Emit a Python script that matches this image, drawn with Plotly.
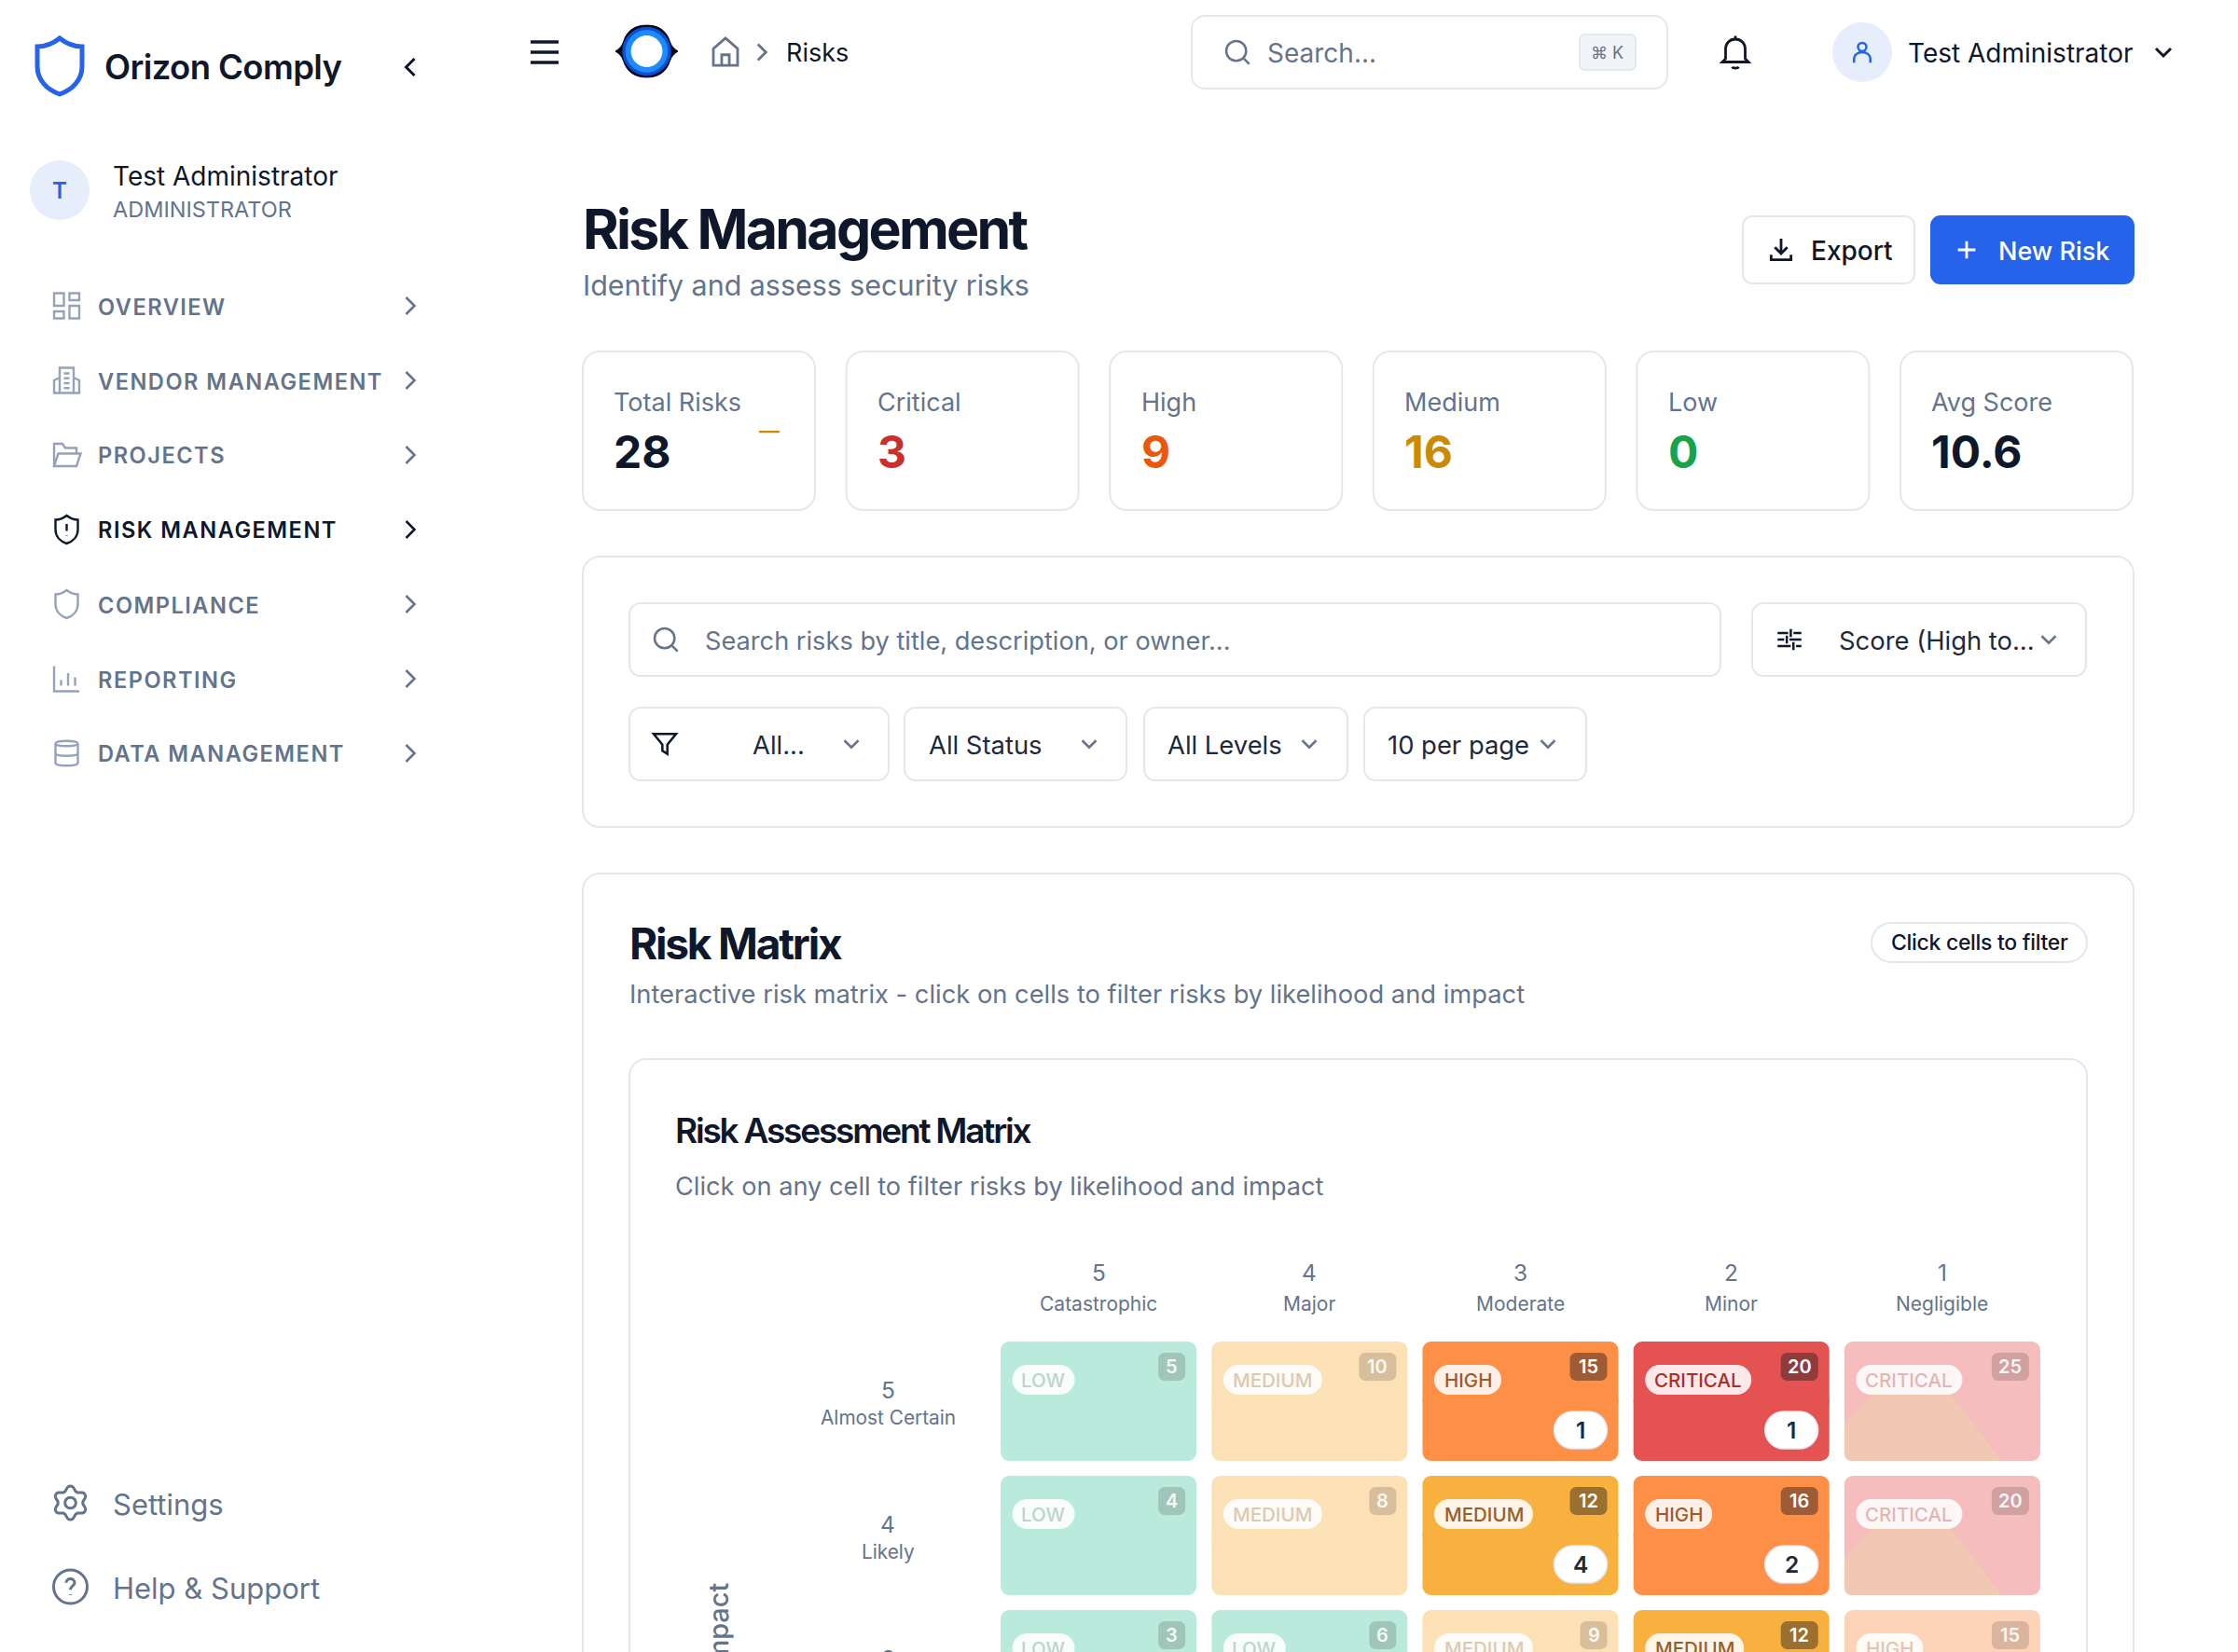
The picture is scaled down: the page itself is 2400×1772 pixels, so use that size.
import math
import re
import plotly.graph_objects as go

# matrix values, top rows only because the page is cut off below the third row
COLUMN_SCORES = [5, 4, 3, 2, 1]
COLUMN_NAMES = ["Catastrophic", "Major", "Moderate", "Minor", "Negligible"]
ROW_SCORES = [5, 4, 3]
ROW_NAMES = ["Almost Certain", "Likely", "Possible"]
CELL_SCORES = [[5, 10, 15, 20, 25], [4, 8, 12, 16, 20], [3, 6, 9, 12, 15]]
CELL_LEVELS = [
    ["LOW", "MEDIUM", "HIGH", "CRITICAL", "CRITICAL"],
    ["LOW", "MEDIUM", "MEDIUM", "HIGH", "CRITICAL"],
    ["LOW", "LOW", "MEDIUM", "MEDIUM", "HIGH"],
]
CELL_COUNTS = [[0, 0, 1, 1, 0], [0, 0, 4, 2, 0], [0, 0, 0, 1, 0]]

STAT_LABELS = ["Total Risks", "Critical", "High", "Medium", "Low", "Avg Score"]
STAT_VALUES = ["28", "3", "9", "16", "0", "10.6"]
STAT_COLOURS = ["#0f172a", "#c9302c", "#ea580c", "#ca8a04", "#16a34a", "#0f172a"]

NAV_LABELS = ["OVERVIEW", "VENDOR MANAGEMENT", "PROJECTS", "RISK MANAGEMENT",
              "COMPLIANCE", "REPORTING", "DATA MANAGEMENT"]

W, H = 2400, 1772
FONT = "Inter"
INK = "#0f172a"
SLATE = "#64748b"
BORDER = "#e2e8f0"
BLUE = "#2563eb"

LEVEL_COLOURS = {"LOW": "#47c9a0", "MEDIUM": "#f8b13f", "HIGH": "#fd8f47", "CRITICAL": "#e45252"}
LEVEL_TEXT = {"LOW": "#4b7f6e", "MEDIUM": "#96602a", "HIGH": "#a0592a", "CRITICAL": "#aa2e2e"}
LEVEL_PILL = {"LOW": 67, "MEDIUM": 106, "HIGH": 72, "CRITICAL": 114}
FADED = 0.38

# matrix geometry in page pixels
GRID_LEFT, GRID_RIGHT, GRID_TOP = 1065, 2196, 1431
ROW_PITCH = 144
CELL_W, CELL_H = 210, 128
BAR_W = CELL_W / ((GRID_RIGHT - GRID_LEFT) / 5)
BAR_H = CELL_H / ROW_PITCH
BAR_OVERLAP = 0.07

shapes = []
notes = []


def px(x):
    return round(x / W, 6)


def py(y):
    return round(1 - y / H, 6)


def blend(colour, alpha):
    # colour laid over the white page
    rgb = [int(colour[i:i + 2], 16) for i in (1, 3, 5)]
    return "rgb(" + ",".join(str(round(255 - (255 - v) * alpha)) for v in rgb) + ")"


def round_path(x0, y0, x1, y1, r):
    k = r * 0.45
    return [("M", x0 + r, y0), ("L", x1 - r, y0), ("C", x1 - k, y0, x1, y0 + k, x1, y0 + r),
            ("L", x1, y1 - r), ("C", x1, y1 - k, x1 - k, y1, x1 - r, y1),
            ("L", x0 + r, y1), ("C", x0 + k, y1, x0, y1 - k, x0, y1 - r),
            ("L", x0, y0 + r), ("C", x0, y0 + k, x0 + k, y0, x0 + r, y0), ("Z",)]


def to_paper(cmds):
    out = []
    for c in cmds:
        pts = c[1:]
        vals = []
        for i in range(0, len(pts), 2):
            vals.append(f"{px(pts[i])},{py(pts[i + 1])}")
        out.append(c[0] + " ".join(vals))
    return " ".join(out)


def box(x0, y0, x1, y1, r, fill="white", line=BORDER, width=2, layer="below"):
    shapes.append(dict(type="path", xref="paper", yref="paper", layer=layer,
                       path=to_paper(round_path(x0, y0, x1, y1, r)), fillcolor=fill,
                       line=dict(color=line, width=width)))


def icon(d, cx, cy, size, colour=SLATE, width=2.5, fill="rgba(0,0,0,0)"):
    # d is a 24x24 svg path, absolute M L C Z only
    s = size / 24
    cmds = []
    for op, args in re.findall(r"([MLCZ])([^MLCZ]*)", d):
        nums = [float(n) for n in args.split()]
        pts = []
        for i in range(0, len(nums), 2):
            pts += [cx + (nums[i] - 12) * s, cy + (nums[i + 1] - 12) * s]
        cmds.append((op, *pts))
    shapes.append(dict(type="path", xref="paper", yref="paper", layer="below", path=to_paper(cmds),
                       fillcolor=fill, line=dict(color=colour, width=width)))


def text(label, x, y, size, colour=SLATE, weight=400, anchor="left", spacing=None, angle=0, yanchor="middle"):
    if spacing is not None:
        label = f'<span style="letter-spacing:{spacing}px">{label}</span>'
    if anchor == "left":
        x -= 1.5
    notes.append(dict(text=label, xref="paper", yref="paper", x=px(x), y=py(y + 1), xanchor=anchor, yanchor=yanchor,
                      showarrow=False, textangle=angle, borderpad=0,
                      font=dict(family=FONT, size=size, color=colour, weight=weight)))


def circle_d(cx, cy, r):
    k = r * 0.55
    return (f"M{cx + r} {cy} C{cx + r} {cy + k} {cx + k} {cy + r} {cx} {cy + r} "
            f"C{cx - k} {cy + r} {cx - r} {cy + k} {cx - r} {cy} "
            f"C{cx - r} {cy - k} {cx - k} {cy - r} {cx} {cy - r} "
            f"C{cx + k} {cy - r} {cx + r} {cy - k} {cx + r} {cy} Z")


def gear_d():
    pts = []
    for i in range(72):
        a = i * math.pi / 36
        rad = 9.4 + 1.7 * max(-0.8, min(0.8, math.cos(6 * a + math.pi)))
        pts.append((12 + rad * math.cos(a), 12 + rad * math.sin(a)))
    d = "M" + " L".join(f"{x:.2f} {y:.2f}" for x, y in pts) + " Z "
    return d + circle_d(12, 12, 3.5)


SHIELD = "M12 2 C14.5 4 17.5 5 20 5 L20 12 C20 17 16.5 20.5 12 22 C7.5 20.5 4 17 4 12 L4 5 C6.5 5 9.5 4 12 2 Z"
EYE = ("M0 12 C1.5 11 2.5 10 3 8.5 C4.5 3.5 8 2 12 2 C16 2 19.5 3.5 21 8.5 C21.5 10 22.5 11 24 12 "
       "C22.5 13 21.5 14 21 15.5 C19.5 20.5 16 22 12 22 C8 22 4.5 20.5 3 15.5 C2.5 14 1.5 13 0 12 Z")
CHEV_R = "M9 6 L15 12 L9 18"
CHEV_L = "M15 6 L9 12 L15 18"
CHEV_D = "M6 9 L12 15 L18 9"
SEARCH = circle_d(11, 11, 8) + " M17 17 L21.5 21.5"
NAV_ICONS = [
    "M3 3 L10 3 L10 12 L3 12 Z M14 3 L21 3 L21 8 L14 8 Z M14 12 L21 12 L21 21 L14 21 Z M3 16 L10 16 L10 21 L3 21 Z",
    "M7 21 L7 3 L17 3 L17 21 M7 10 L3 12 L3 21 L21 21 L21 12 L17 10 M10 7 L14 7 M10 10.5 L14 10.5 M10 14 L14 14 M10 17.5 L14 17.5",
    "M3 20 L3 4 L9 4 L11 7 L19 7 L19 11 M3 20 L6 11 L22 11 L19 20 Z",
    SHIELD + " M12 8 L12 13 M12 16 L12 16.4",
    SHIELD,
    "M3 3 L3 21 L21 21 M8 17 L8 13 M13 17 L13 8 M18 17 L18 11",
    "M4 5 C4 2.5 20 2.5 20 5 C20 7.5 4 7.5 4 5 Z M4 5 L4 19 C4 21.5 20 21.5 20 19 L20 5 M4 12 C4 14.5 20 14.5 20 12",
]

# sidebar
icon(SHIELD, 64, 71, 72, BLUE, 5)
text("Orizon Comply", 112, 71, 36.5, INK, 600, spacing=-0.6)
icon(CHEV_L, 440, 72, 36, INK, 3)
shapes.append(dict(type="circle", xref="paper", yref="paper", x0=px(32), x1=px(96), y0=py(172), y1=py(236),
                   fillcolor="#e6eefc", line=dict(width=0), layer="below"))
text("T", 64, 204, 24, BLUE, 600, "center")
text("Test Administrator", 121, 188, 28, INK, 400)
text("ADMINISTRATOR", 121, 224, 23.5, SLATE, 400)
for i, (lab, d) in enumerate(zip(NAV_LABELS, NAV_ICONS)):
    y = 328 + i * 80
    on = lab == "RISK MANAGEMENT"
    icon(d, 71.5, y, 36, INK if on else "#94a3b8", 2.4)
    text(lab, 105, y, 23.6, INK if on else SLATE, 600, spacing=1.5)
    icon(CHEV_R, 440, y, 36, INK if on else SLATE, 2.5)
icon(gear_d(), 75.5, 1612, 40, SLATE, 3)
text("Settings", 121, 1613, 31, SLATE)
icon(circle_d(12, 12, 10.8) + " M9.3 9.5 C9.3 6 14.7 6 14.7 9.5 C14.7 11.5 12 11.5 12 14 M12 17 L12 17.4", 75.5, 1702, 40, SLATE, 3)
text("Help & Support", 121, 1702, 31, SLATE)

# top bar
for y in (45, 56, 67):
    icon("M0 12 L24 12", 584, y, 30, INK, 3.5)
icon(EYE, 693.5, 55, 67, "#020617", 1, "#020617")
icon(circle_d(12, 12, 9.2), 693.5, 55, 67, "#0b4fd6", 1, "#0b4fd6")
icon(circle_d(12, 12, 8), 693.5, 55, 67, "#1d8bfb", 1, "#1d8bfb")
icon(circle_d(12, 12, 5.9), 693.5, 55, 67, "white", 1, "white")
icon("M4 10 L12 3 L20 10 L20 21 L4 21 Z M9.5 21 L9.5 14 L14.5 14 L14.5 21", 778, 55.5, 39, SLATE, 2.8)
icon(CHEV_R, 817, 56, 34, SLATE, 2.8)
text("Risks", 843, 56, 27, INK, 400)
box(1278, 17, 1788, 95, 14)
icon(SEARCH, 1327, 56, 32, SLATE, 2.5)
text("Search...", 1359, 56, 28, SLATE)
box(1694, 37, 1754, 75, 6, "#f1f5f9")
text("⌘ K", 1724, 56, 18, SLATE, anchor="center")
icon("M6 16 L6 10 C6 6.5 8.5 4 12 4 C15.5 4 18 6.5 18 10 L18 16 L20 18 L4 18 Z M10 21 C10.5 22 13.5 22 14 21 M12 2 L12 4", 1861, 56, 42, INK, 2.8)
shapes.append(dict(type="circle", xref="paper", yref="paper", x0=px(1965), x1=px(2029), y0=py(24), y1=py(88),
                   fillcolor="#e6eefc", line=dict(width=0), layer="below"))
icon(circle_d(12, 7.5, 3.6) + " M5 21 L5 18 C5 10 19 10 19 18 L19 21", 1997, 56, 30, BLUE, 2.5)
text("Test Administrator", 2046, 56, 28, INK)
icon(CHEV_D, 2320, 56, 32, INK, 3)

# page heading
text("Risk Management", 625, 244, 59, INK, 700, spacing=-2.7)
text("Identify and assess security risks", 625, 305, 30.4, SLATE)
box(1869, 232, 2053, 304, 10)
icon("M12 3 L12 15 M7 10 L12 15 L17 10 M4 16 L4 20 L20 20 L20 16", 1910, 268, 32, INK, 2.8)
text("Export", 1942, 268, 28, INK, 500)
box(2071, 232, 2288, 304, 10, BLUE, BLUE)
icon("M12 5 L12 19 M5 12 L19 12", 2109, 268, 32, "white", 2.8)
text("New Risk", 2143, 268, 27, "white", 500)

# stat cards
for i, (lab, val, col) in enumerate(zip(STAT_LABELS, STAT_VALUES, STAT_COLOURS)):
    left = 625 + i * 282.6
    box(left, 377, left + 249, 547, 18)
    text(lab, left + 34, 431, 27, SLATE)
    text(val, left + 34, 484, 48, col, 700)
text("—", 825, 461, 22, "#ca8a04", 600, "center")

# filters
box(625, 597, 2288, 887, 18)
box(675, 647, 1845, 725, 12)
icon(SEARCH, 714, 686, 32, SLATE, 2.5)
text("Search risks by title, description, or owner...", 756, 686, 27.2, SLATE)
box(1879, 647, 2237, 725, 12)
icon("M3 7 L11 7 M15 7 L21 7 M13 4 L13 10 M3 12 L8 12 M12 12 L21 12 M10 9 L10 15 M3 17 L13 17 M17 17 L21 17 M15 14 L15 20", 1919, 686, 34, INK, 2.5)
text("Score (High to...", 1973, 686, 27.4, "#1e293b")
icon(CHEV_D, 2197, 686, 30, SLATE, 2.5)
SELECTS = [(675, 953, "All...", 807, 913), (970, 1208, "All Status", 996, 1168),
           (1227, 1445, "All Levels", 1253, 1404), (1463, 1701, "10 per page", 1488, 1660)]
for x0, x1, lab, tx, chev in SELECTS:
    box(x0, 759, x1, 837, 12)
    text(lab, tx, 798, 27.4, "#1e293b")
    icon(CHEV_D, chev, 798, 30, SLATE, 2.5)
icon("M3 4 L21 4 L14 12.5 L14 20 L10 17.5 L10 12.5 Z", 713, 798, 32, INK, 2.5)

# risk matrix panel, runs off the page
box(625, 937, 2288, 1900, 18)
text("Risk Matrix", 675, 1011, 46, INK, 700, spacing=-2.2)
text("Interactive risk matrix - click on cells to filter risks by likelihood and impact", 675, 1066, 27.3, SLATE)
box(2007, 990, 2238, 1032, 21)
text("Click cells to filter", 2123, 1010, 23, INK, 500, "center", spacing=-0.3)
box(675, 1136, 2238, 1900, 18)
text("Risk Assessment Matrix", 725, 1212, 37, INK, 600, spacing=-2.2)
text("Click on any cell to filter risks by likelihood and impact", 725, 1272, 27.2, SLATE)
text("Impact", 771, 1696, 29, SLATE, 500, "center", angle=-90, yanchor="top")

fig = go.Figure()
cols = list(range(len(COLUMN_SCORES)))
for r in range(len(ROW_SCORES)):
    colours = [blend(LEVEL_COLOURS[lv], 1 if n else FADED) for lv, n in zip(CELL_LEVELS[r], CELL_COUNTS[r])]
    # two halves from the middle of the row so that all four corners get rounded
    for sign in (1, -1):
        fig.add_trace(go.Bar(x=cols, y=[sign * (BAR_H / 2 + BAR_OVERLAP)] * len(cols),
                             base=[-r - sign * BAR_OVERLAP] * len(cols), width=BAR_W,
                             marker=dict(color=colours, cornerradius=9, line=dict(width=0)),
                             hoverinfo="skip", showlegend=False))


def cell_path(c, r, x0, y0, x1, y1, rad, fill, opacity=1, line=None):
    # offsets in pixels from the cell's top left, y downward
    ox, oy = -CELL_W / 2, CELL_H / 2
    cmds = round_path(x0, y0, x1, y1, rad)
    out = []
    for cmd in cmds:
        pts = cmd[1:]
        out.append(cmd[0] + " ".join(f"{ox + pts[i]:.2f},{oy - pts[i + 1]:.2f}" for i in range(0, len(pts), 2)))
    shapes.append(dict(type="path", xref="x", yref="y", xsizemode="pixel", ysizemode="pixel", xanchor=c, yanchor=-r,
                       path=" ".join(out), fillcolor=fill, opacity=opacity, layer="above",
                       line=dict(width=1.5 if line else 0, color=line or fill)))


def cell_text(label, c, r, dx, dy, size, colour, weight=600, opacity=1, anchor="center"):
    notes.append(dict(text=label, xref="x", yref="y", x=c, y=-r + BAR_H / 2, xshift=dx - CELL_W / 2, yshift=-dy,
                      xanchor=anchor, yanchor="middle", showarrow=False, borderpad=0, opacity=opacity,
                      font=dict(family=FONT, size=size, color=colour, weight=weight)))


for c in cols:
    notes.append(dict(text=str(COLUMN_SCORES[c]), xref="x", yref="paper", x=c, y=py(1365), yanchor="middle", showarrow=False, borderpad=0,
                      font=dict(family=FONT, size=24.5, color=SLATE)))
    notes.append(dict(text=COLUMN_NAMES[c], xref="x", yref="paper", x=c, y=py(1399), yanchor="middle", showarrow=False, borderpad=0,
                      font=dict(family=FONT, size=21, color=SLATE)))

for r in range(len(ROW_SCORES)):
    for dy, lab, size in [(52, str(ROW_SCORES[r]), 24.5), (81, ROW_NAMES[r], 20.8)]:
        notes.append(dict(text=lab, xref="paper", yref="y", x=px(952), y=-r + BAR_H / 2, yshift=-dy, xanchor="center",
                          yanchor="middle", showarrow=False, borderpad=0, font=dict(family=FONT, size=size, color=SLATE)))
    for c in cols:
        level = CELL_LEVELS[r][c]
        score = CELL_SCORES[r][c]
        count = CELL_COUNTS[r][c]
        if level == "CRITICAL" and not count:
            shapes.append(dict(type="path", xref="x", yref="y", xsizemode="pixel", ysizemode="pixel", xanchor=c, yanchor=-r,
                               path="M-76,7 L9,7 L64,-64 L-97,-64 C-102,-64 -105,-61 -105,-56 L-105,-25 Z",
                               fillcolor="#f0c8b4", line=dict(width=0), layer="above"))
        pill = LEVEL_PILL[level]
        cell_path(c, r, 12.5, 25, 12.5 + pill, 57, 16, "rgba(255,255,255,0.87)")
        cell_text(level, c, r, 12.5 + pill / 2, 41, 20.5, LEVEL_TEXT[level], 500, 1 if count else 0.32)
        wide = 40 if score > 9 else 29
        cell_path(c, r, CELL_W - 12 - wide, 12, CELL_W - 12, 42, 7, "rgba(40,30,30,0.45)", 1 if count else 0.38)
        cell_text(str(score), c, r, CELL_W - 12 - wide / 2, 27, 20, "white", 600, 1 if count else 0.9)
        if count:
            wide = 57
            cell_path(c, r, CELL_W - 12 - wide, 75, CELL_W - 12, 115, 20, "white", 1, "#e2e8f0")
            cell_text(str(count), c, r, CELL_W - 12 - wide / 2, 95, 24.5, "#1e293b", 600)

fig.update_layout(
    width=W, height=H, margin=dict(l=0, r=0, t=0, b=0),
    paper_bgcolor="white", plot_bgcolor="rgba(0,0,0,0)", barmode="overlay", showlegend=False, hovermode=False,
    shapes=shapes, annotations=notes,
    xaxis=dict(domain=[GRID_LEFT / W, GRID_RIGHT / W], range=[-0.5, 4.5], visible=False, fixedrange=True),
    yaxis=dict(domain=[0, 1 - GRID_TOP / H], range=[0.5 - (H - GRID_TOP) / ROW_PITCH, 0.5], visible=False, fixedrange=True),
)

fig.write_html("out.html", config=dict(displayModeBar=False), post_script="document.body.style.margin='0';")
